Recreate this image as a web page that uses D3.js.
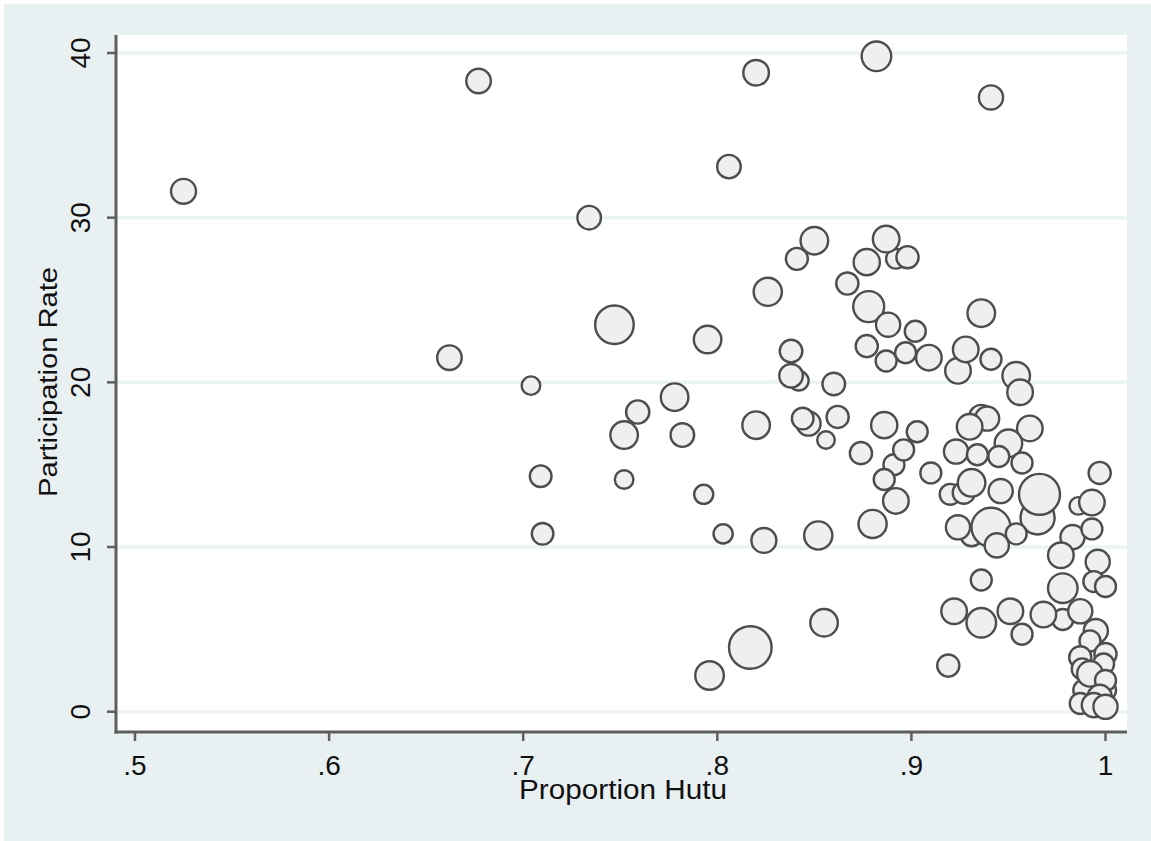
<!DOCTYPE html>
<html>
<head>
<meta charset="utf-8">
<script src="https://cdn.jsdelivr.net/npm/d3@7"></script>
<style>
  html, body { margin: 0; padding: 0; background: #ffffff; }
  svg { display: block; }
</style>
</head>
<body>
<script>
// ---- data ----
const hutu = [
  .525,.677,.662,.704,.709,.710,.734,.747,.752,.752,.759,.778,.782,.793,.803,.824,.852,.880,.855,.817,
  .796,.795,.826,.850,.841,.838,.842,.838,.860,.820,.847,.844,.862,.856,.874,.886,.892,.887,.898,.877,
  .867,.878,.888,.877,.887,.882,.820,.806,.941,.891,.886,.892,.936,.902,.897,.909,.924,.928,.941,.954,
  .956,.903,.896,.910,.936,.939,.930,.961,.950,.923,.934,.945,.957,.920,.927,.931,.946,.965,.966,.931,
  .924,.941,.954,.944,.997,.986,.993,.983,.993,.977,.996,.936,.994,1.0,.978,.922,.978,.936,.951,.957,
  .968,.987,.995,.992,.987,1.0,.999,.988,.989,.992,1.0,1.0,.997,.987,.994,1.0,.919
];
const rate = [
  31.6,38.3,21.5,19.8,14.3,10.8,30.0,23.5,16.8,14.1,18.2,19.1,16.8,13.2,10.8,10.4,10.7,11.4,5.4,3.9,
  2.2,22.6,25.5,28.6,27.5,21.9,20.1,20.4,19.9,17.4,17.5,17.8,17.9,16.5,15.7,17.4,27.5,28.7,27.6,27.3,
  26.0,24.6,23.5,22.2,21.3,39.8,38.8,33.1,37.3,15.0,14.1,12.8,24.2,23.1,21.8,21.5,20.7,22.0,21.4,20.4,
  19.4,17.0,15.9,14.5,17.9,17.8,17.3,17.2,16.3,15.8,15.6,15.5,15.1,13.2,13.3,13.9,13.4,11.8,13.2,10.7,
  11.2,11.2,10.8,10.1,14.5,12.5,12.7,10.6,11.1,9.5,9.1,8.0,7.9,7.6,7.5,6.1,5.6,5.4,6.1,4.7,
  5.9,6.1,4.9,4.3,3.3,3.5,2.9,2.6,1.3,2.3,1.3,1.9,0.9,0.5,0.4,0.3,2.8
];
const weight = [
  156,151,151,86,117,117,139,372,190,86,135,190,139,92,92,156,199,199,190,454,
  204,190,199,190,121,128,96,139,128,190,146,117,123,77,123,172,96,177,123,172,
  123,240,146,123,110,219,164,139,146,110,110,164,190,110,110,164,164,164,110,190,
  164,110,110,110,146,146,164,164,190,146,110,110,110,110,123,190,146,292,420,117,
  146,380,110,146,123,77,164,146,110,164,146,110,110,110,219,164,110,219,164,110,
  164,146,146,110,123,123,110,110,117,164,110,110,146,110,146,146,123
];
const yTicks = [0, 10, 20, 30, 40];
const xTicks = [.5, .6, .7, .8, .9, 1];
const xTitle = "Proportion Hutu";
const yTitle = "Participation Rate";

// ---- layout ----
const W = 1151, H = 841;
const plot = { left: 116, right: 1127, top: 35, bottom: 732 };
const x = d3.scaleLinear().domain([0.5, 1]).range([135, 1105.5]);
const y = d3.scaleLinear().domain([0, 40]).range([711.7, 53]);
const r = d3.scaleSqrt().domain([0, 454]).range([0, 21.3]);
const font = "'Liberation Sans', Arial, Helvetica, sans-serif";
const fmtX = d => d === 1 ? "1" : d3.format(".1f")(d).replace(/^0/, "");

const svg = d3.select("body").append("svg").attr("width", W).attr("height", H);

svg.append("rect").attr("x", 4).attr("y", 4).attr("width", W - 4).attr("height", H - 4)
  .attr("fill", "#e9f0f2");
svg.append("rect").attr("x", plot.left).attr("y", plot.top)
  .attr("width", plot.right - plot.left).attr("height", plot.bottom - plot.top)
  .attr("fill", "#ffffff");

// gridlines
svg.append("g").selectAll("line").data(yTicks).join("line")
  .attr("x1", plot.left).attr("x2", plot.right)
  .attr("y1", d => y(d)).attr("y2", d => y(d))
  .attr("stroke", "#ebf3f3").attr("stroke-width", 3.5);

// bubbles
const pts = hutu.map((h, i) => ({ h, v: rate[i], w: weight[i] }));
svg.append("g").selectAll("circle").data(pts).join("circle")
  .attr("cx", d => x(d.h)).attr("cy", d => y(d.v)).attr("r", d => r(d.w))
  .attr("fill", "#efefef").attr("stroke", "#4d4d4d").attr("stroke-width", 2.4);

// axes lines
const axisColor = "#5e5e5e";
svg.append("line").attr("x1", plot.left).attr("x2", plot.left)
  .attr("y1", plot.top).attr("y2", plot.bottom + 1.5)
  .attr("stroke", axisColor).attr("stroke-width", 3);
svg.append("line").attr("x1", plot.left - 1.5).attr("x2", plot.right)
  .attr("y1", plot.bottom).attr("y2", plot.bottom)
  .attr("stroke", axisColor).attr("stroke-width", 3);

// ticks
svg.append("g").selectAll("line").data(yTicks).join("line")
  .attr("x1", plot.left - 9).attr("x2", plot.left)
  .attr("y1", d => y(d)).attr("y2", d => y(d))
  .attr("stroke", axisColor).attr("stroke-width", 2.5);
svg.append("g").selectAll("line").data(xTicks).join("line")
  .attr("x1", d => x(d)).attr("x2", d => x(d))
  .attr("y1", plot.bottom).attr("y2", plot.bottom + 9)
  .attr("stroke", axisColor).attr("stroke-width", 2.5);

// tick labels
svg.append("g").selectAll("text").data(yTicks).join("text")
  .attr("transform", d => `translate(90,${y(d)}) rotate(-90)`)
  .attr("text-anchor", "middle").attr("font-family", font).attr("font-size", 28)
  .attr("fill", "#111").text(d => d);
svg.append("g").selectAll("text").data(xTicks).join("text")
  .attr("x", d => x(d)).attr("y", 775)
  .attr("text-anchor", "middle").attr("font-family", font).attr("font-size", 28)
  .attr("fill", "#111").text(fmtX);

// titles
svg.append("text").attr("x", 623).attr("y", 799).attr("text-anchor", "middle")
  .attr("font-family", font).attr("font-size", 27).attr("fill", "#111")
  .attr("textLength", 208).attr("lengthAdjust", "spacingAndGlyphs").text(xTitle);
svg.append("text").attr("transform", "translate(57,382) rotate(-90)")
  .attr("text-anchor", "middle").attr("font-family", font).attr("font-size", 26)
  .attr("fill", "#111").attr("textLength", 230).attr("lengthAdjust", "spacingAndGlyphs")
  .text(yTitle);
</script>
</body>
</html>
